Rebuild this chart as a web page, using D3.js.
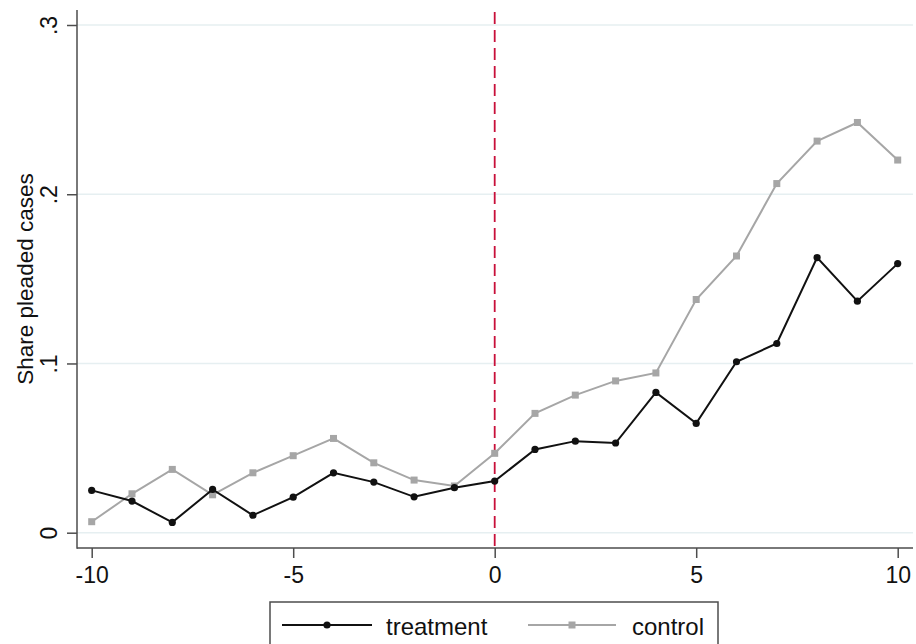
<!DOCTYPE html>
<html>
<head>
<meta charset="utf-8">
<script src="https://cdn.jsdelivr.net/npm/d3@7"></script>
<style>
  html, body { margin: 0; padding: 0; background: #fff; }
  svg { display: block; font-family: "Liberation Sans", Arial, Helvetica, sans-serif; }
</style>
</head>
<body>
<svg id="chart" width="916" height="644"></svg>
<script>
// Event time (periods relative to treatment)
const periods = [-10, -9, -8, -7, -6, -5, -4, -3, -2, -1, 0, 1, 2, 3, 4, 5, 6, 7, 8, 9, 10];
// Share of pleaded cases by group
const treatment = [0.025, 0.0187, 0.0061, 0.0256, 0.0103, 0.021, 0.0354, 0.0299, 0.0212, 0.0266, 0.0305,
                   0.0492, 0.0541, 0.0530, 0.0829, 0.0646, 0.1010, 0.1118, 0.1626, 0.1368, 0.1590];
const control   = [0.0065, 0.0230, 0.0374, 0.0224, 0.0354, 0.0455, 0.0557, 0.0413, 0.0311, 0.0276, 0.0469,
                   0.0705, 0.0813, 0.0897, 0.0944, 0.1378, 0.1635, 0.2063, 0.2314, 0.2424, 0.2202];
const xTicks = [-10, -5, 0, 5, 10];
const xTickLabels = ["-10", "-5", "0", "5", "10"];
const yTicks = [0, 0.1, 0.2, 0.3];
const yTickLabels = ["0", ".1", ".2", ".3"];
const seriesNames = ["treatment", "control"];

const svg = d3.select("#chart");

const x = d3.scaleLinear().domain([-10, 10]).range([91.7, 897.7]);
const y = d3.scaleLinear().domain([0, 0.3]).range([532.7, 25]);

const axisX = 77, axisY = 548, plotRight = 913, plotTop = 10;
const axisColor = "#4d4d4d";
const font = "'Liberation Sans', Arial, Helvetica, sans-serif";

// horizontal grid
svg.append("g").selectAll("line").data(yTicks).join("line")
  .attr("x1", axisX).attr("x2", plotRight)
  .attr("y1", d => y(d)).attr("y2", d => y(d))
  .attr("stroke", "#e6eff1").attr("stroke-width", 1.5);

// y axis
const gy = svg.append("g").attr("transform", `translate(${axisX},0)`)
  .call(d3.axisLeft(y).tickValues(yTicks).tickSize(10).tickSizeOuter(0)
        .tickFormat((d, i) => yTickLabels[i]));
gy.select(".domain").remove();
gy.selectAll(".tick line").attr("stroke", axisColor).attr("stroke-width", 1.5);
gy.selectAll(".tick text")
  .attr("x", null).attr("dy", null)
  .attr("text-anchor", "middle")
  .attr("transform", "translate(-20,0) rotate(-90)")
  .attr("font-size", 23).attr("fill", "#111")
  .style("font-family", font);

// x axis
const gx = svg.append("g").attr("transform", `translate(0,${axisY})`)
  .call(d3.axisBottom(x).tickValues(xTicks).tickSize(10).tickSizeOuter(0)
        .tickFormat((d, i) => xTickLabels[i]));
gx.select(".domain").remove();
gx.selectAll(".tick line").attr("stroke", axisColor).attr("stroke-width", 1.5);
gx.selectAll(".tick text")
  .attr("y", 35).attr("dy", null)
  .attr("font-size", 23).attr("fill", "#111")
  .style("font-family", font);

// axis lines
svg.append("line").attr("x1", axisX).attr("x2", axisX).attr("y1", plotTop).attr("y2", axisY + 0.75)
  .attr("stroke", axisColor).attr("stroke-width", 1.5);
svg.append("line").attr("x1", axisX).attr("x2", plotRight).attr("y1", axisY).attr("y2", axisY)
  .attr("stroke", axisColor).attr("stroke-width", 1.5);

// treatment date marker
svg.append("line")
  .attr("x1", x(0)).attr("x2", x(0)).attr("y1", 12).attr("y2", axisY)
  .attr("stroke", "#c8103a").attr("stroke-width", 1.8).attr("stroke-dasharray", "12,6");

// y title
svg.append("text")
  .attr("transform", `translate(33,${(plotTop + axisY) / 2}) rotate(-90)`)
  .attr("text-anchor", "middle").attr("font-size", 22.5).attr("fill", "#111")
  .text("Share pleaded cases");

const line = d3.line().x((d, i) => x(periods[i])).y(d => y(d));

const tColor = "#111", cColor = "#a6a6a6";

// control series
svg.append("path").datum(control).attr("d", line)
  .attr("fill", "none").attr("stroke", cColor).attr("stroke-width", 2);
svg.append("g").selectAll("rect").data(control).join("rect")
  .attr("x", (d, i) => x(periods[i]) - 3.5).attr("y", d => y(d) - 3.5)
  .attr("width", 7).attr("height", 7).attr("fill", cColor);

// treatment series
svg.append("path").datum(treatment).attr("d", line)
  .attr("fill", "none").attr("stroke", tColor).attr("stroke-width", 2);
svg.append("g").selectAll("circle").data(treatment).join("circle")
  .attr("cx", (d, i) => x(periods[i])).attr("cy", d => y(d))
  .attr("r", 3.6).attr("fill", tColor);

// legend
const lg = svg.append("g");
lg.append("rect").attr("x", 270).attr("y", 602).attr("width", 448).attr("height", 70)
  .attr("fill", "#fff").attr("stroke", axisColor).attr("stroke-width", 1.5);
const ly = 625;
lg.append("line").attr("x1", 282).attr("x2", 372).attr("y1", ly).attr("y2", ly)
  .attr("stroke", tColor).attr("stroke-width", 2);
lg.append("circle").attr("cx", 327).attr("cy", ly).attr("r", 3.6).attr("fill", tColor);
lg.append("text").attr("x", 386).attr("y", ly + 10).attr("font-size", 24).attr("fill", "#111")
  .text(seriesNames[0]);
lg.append("line").attr("x1", 528).attr("x2", 616).attr("y1", ly).attr("y2", ly)
  .attr("stroke", cColor).attr("stroke-width", 2);
lg.append("rect").attr("x", 572 - 3.5).attr("y", ly - 3.5).attr("width", 7).attr("height", 7).attr("fill", cColor);
lg.append("text").attr("x", 632).attr("y", ly + 10).attr("font-size", 24).attr("fill", "#111")
  .text(seriesNames[1]);
</script>
</body>
</html>
